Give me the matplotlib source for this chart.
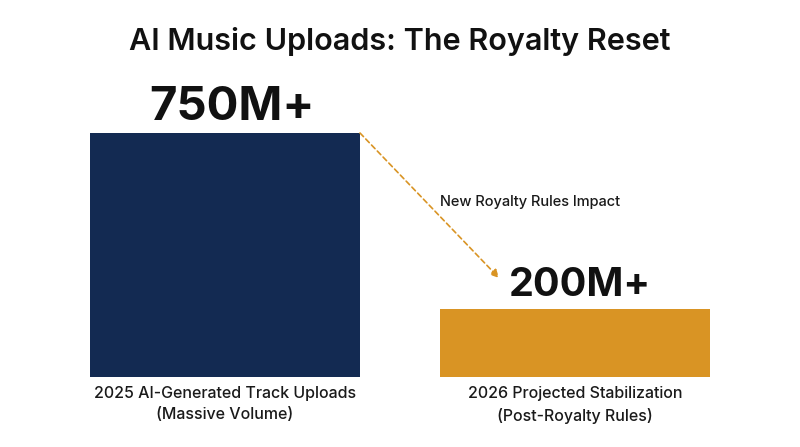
import matplotlib.pyplot as plt
from matplotlib.patches import FancyArrowPatch

plt.rcParams['font.family'] = ['Inter', 'DejaVu Sans']

categories = ['2025 AI-Generated Track Uploads\n(Massive Volume)',
              '2026 Projected Stabilization\n(Post-Royalty Rules)']
values = [750, 210]
value_labels = ['750M+', '200M+']
colors = ['#132a52', '#d99424']
title = 'AI Music Uploads: The Royalty Reset'
arrow_text = 'New Royalty Rules Impact'

fig = plt.figure(figsize=(8, 4.47), dpi=100)
ax = fig.add_axes([0, 0, 1, 1])

# pixel-ish layout: bar centres at x=0,1 (350 px apart), baseline 70 px from bottom
px_x = 350.0
px_y = 244.0 / 750
ax.set_xlim(-225 / px_x, (800 - 225) / px_x)
ax.set_ylim(-70 / px_y, (447 - 70) / px_y)
ax.axis('off')

xs = [0, 1]
w = 270 / px_x
ax.bar(xs, values, width=w, color=colors)

# value labels above bars
ax.text(xs[0] + 0.02, values[0] + 3 / px_y, value_labels[0], ha='center', va='bottom',
        fontsize=34, fontweight='bold', color='#111111')
ax.text(xs[1] + 0.015, values[1] + 5 / px_y, value_labels[1], ha='center', va='bottom',
        fontsize=28.5, fontweight='bold', color='#111111')

# category labels under bars
for x, lab in zip(xs, categories):
    ax.text(x, -9 / px_y, lab, ha='center', va='top', fontsize=11.5,
            fontweight='medium', color='#1a1a1a', linespacing=1.5)

# dashed arrow
arr = FancyArrowPatch((xs[0] + w / 2, values[0]), (0.783, 99 / px_y),
                      arrowstyle='-|>', mutation_scale=12, color='#d99424',
                      linestyle=(0, (3, 2)), linewidth=1.2, shrinkA=0, shrinkB=0)
ax.add_patch(arr)
ax.text(0.614, 175 / px_y, arrow_text, ha='left', va='center', fontsize=10.5,
        fontweight='medium', color='#1a1a1a')

fig.text(0.5, 1 - 41 / 447, title, ha='center', va='center', fontsize=22,
         fontweight='semibold', color='#111111')

fig.savefig('out.png', dpi=100, facecolor='white')
